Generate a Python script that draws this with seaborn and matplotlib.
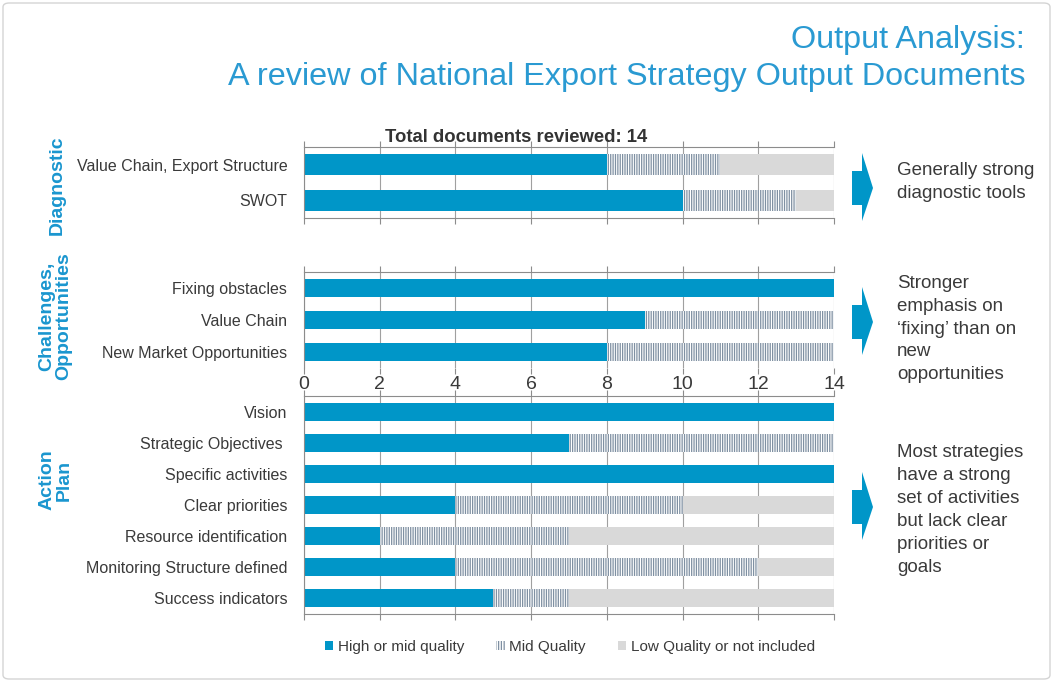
import numpy as np
import pandas as pd
import matplotlib
matplotlib.use("Agg")
import matplotlib.pyplot as plt
from matplotlib.patches import Patch, Polygon, FancyBboxPatch
from matplotlib.ticker import FixedLocator
import seaborn as sns

# ---- data -------------------------------------------------------------
diag_labels = ["Value Chain, Export Structure", "SWOT"]
diag_high = [8, 10]
diag_mid = [3, 3]
diag_low = [3, 1]

chal_labels = ["Fixing obstacles", "Value Chain", "New Market Opportunities"]
chal_high = [14, 9, 8]
chal_mid = [0, 5, 6]
chal_low = [0, 0, 0]

act_labels = ["Vision", "Strategic Objectives ", "Specific activities",
              "Clear priorities", "Resource identification",
              "Monitoring Structure defined", "Success indicators"]
act_high = [14, 7, 14, 4, 2, 4, 5]
act_mid = [0, 7, 0, 6, 5, 8, 2]
act_low = [0, 0, 0, 4, 7, 2, 7]

group_names = ["Diagnostic", "Challenges,\nOpportunities", "Action\nPlan"]
notes = ["Generally strong\ndiagnostic tools",
         "Stronger\nemphasis on\n\u2018fixing\u2019 than on\nnew\nopportunities",
         "Most strategies\nhave a strong\nset of activities\nbut lack clear\npriorities or\ngoals"]
legend_labels = ["High or mid quality", "Mid Quality", "Low Quality or not included"]
x_ticks = [0, 2, 4, 6, 8, 10, 12, 14]

# ---- style ------------------------------------------------------------
sns.set_style("white")
plt.rcParams["font.family"] = ["Liberation Sans", "DejaVu Sans"]
plt.rcParams["hatch.linewidth"] = 0.9

BLUE = "#0096c8"
TITLE_BLUE = "#2a9ad2"
HATCH = "#7f90a2"
LOW = "#d9d9d9"
TXT = "#3a3a3a"
AXC = "#8c8c8c"
HATCH_PAT = "|||||||"

W, H = 1053, 682
fig = plt.figure(figsize=(W / 100, H / 100), dpi=100)


def fx(px):
    return px / W


def fy(py):
    return 1 - py / H


def panel(top, bottom, labels, high, mid, low, show_xlabels, bottom_spine):
    ax = fig.add_axes([fx(304), fy(bottom), fx(834) - fx(304), (bottom - top) / H])
    high = np.asarray(high, float)
    mid = np.asarray(mid, float)
    low = np.asarray(low, float)
    df = pd.DataFrame({"label": labels,
                       "total": high + mid + low,
                       "upper": high + mid,
                       "high": high})
    # layered bars: full length (low quality) under mid, under high
    sns.barplot(data=df, x="total", y="label", order=labels, orient="h",
                color=LOW, saturation=1, width=0.58, linewidth=0, ax=ax)
    sns.barplot(data=df, x="upper", y="label", order=labels, orient="h",
                facecolor="white", edgecolor=HATCH, hatch=HATCH_PAT,
                width=0.58, linewidth=0, ax=ax)
    sns.barplot(data=df, x="high", y="label", order=labels, orient="h",
                color=BLUE, saturation=1, width=0.58, linewidth=0, ax=ax)
    n = len(labels)
    ax.set_xlim(0, 14)
    ax.set_ylim(n - 0.5, -0.5)
    ax.set_xlabel("")
    ax.set_ylabel("")
    ax.set_axisbelow(True)
    ax.xaxis.set_major_locator(FixedLocator(x_ticks))
    ax.grid(axis="x", color="#a0a0a0", linewidth=0.8)
    ax.grid(axis="y", visible=False)
    for s in ["top", "left"]:
        ax.spines[s].set_visible(True)
        ax.spines[s].set_color(AXC)
        ax.spines[s].set_linewidth(0.8)
    ax.spines["right"].set_visible(False)
    ax.spines["bottom"].set_visible(bottom_spine)
    ax.spines["bottom"].set_color(AXC)
    ax.spines["bottom"].set_linewidth(0.8)
    ax.tick_params(axis="x", which="major", direction="out", length=4,
                   color=AXC, width=0.8, top=True, bottom=True,
                   labelbottom=show_xlabels, labeltop=False,
                   labelsize=14, labelcolor=TXT, pad=2)
    ax.tick_params(axis="y", which="major", length=0, labelsize=11.5,
                   labelcolor=TXT, pad=12)
    ax.yaxis.set_minor_locator(FixedLocator(np.arange(-0.5, n, 1.0)))
    ax.tick_params(axis="y", which="minor", direction="out", length=4,
                   color=AXC, width=0.8)
    return ax


panel(147, 218, diag_labels, diag_high, diag_mid, diag_low, False, True)
panel(272, 368, chal_labels, chal_high, chal_mid, chal_low, True, False)
panel(396, 614, act_labels, act_high, act_mid, act_low, False, True)

# ---- titles -----------------------------------------------------------
fig.text(fx(1025), fy(40), "Output Analysis:", ha="right", va="center",
         fontsize=23.3, color=TITLE_BLUE)
fig.text(fx(1025), fy(77), "A review of National Export Strategy Output Documents",
         ha="right", va="center", fontsize=23.3, color=TITLE_BLUE)
fig.text(fx(516), fy(137), "Total documents reviewed: 14", ha="center",
         va="center", fontsize=13.3, fontweight="bold", color="#333333")

# ---- group labels on the left ----------------------------------------
for name, (cx, cy) in zip(group_names, [(57, 185), (55, 316), (56, 480)]):
    fig.text(fx(cx), fy(cy), name, rotation=90, ha="center", va="center",
             multialignment="center", fontsize=14, fontweight="bold",
             color="#1a96cf", linespacing=1.0)

# ---- arrows and notes on the right -----------------------------------
for cy in [188, 322, 507]:
    pts = [(852, cy - 17), (862, cy - 17), (862, cy - 35), (873, cy),
           (862, cy + 33), (862, cy + 17), (852, cy + 17)]
    fig.patches.append(Polygon([(fx(x), fy(y)) for x, y in pts], closed=True,
                               transform=fig.transFigure, facecolor=BLUE,
                               edgecolor="none"))

for note, cy in zip(notes, [182, 329, 510]):
    fig.text(fx(897), fy(cy), note, ha="left", va="center", fontsize=13.5,
             color=TXT, linespacing=1.46)

# ---- legend ------------------------------------------------------------
handles = [Patch(facecolor=BLUE, edgecolor="none"),
           Patch(facecolor="white", edgecolor=HATCH, hatch="||||||", linewidth=0),
           Patch(facecolor=LOW, edgecolor="none")]
fig.legend(handles, legend_labels, loc="center", bbox_to_anchor=(fx(570), fy(647)),
           ncol=3, frameon=False, fontsize=11, handlelength=0.55,
           handleheight=0.55, handletextpad=0.3, columnspacing=2.1,
           labelcolor=TXT)

# ---- outer frame -------------------------------------------------------
fig.patches.append(FancyBboxPatch((fx(3), fy(679)), fx(1047), (676) / H,
                                  boxstyle="round,pad=0,rounding_size=0.006",
                                  transform=fig.transFigure, facecolor="none",
                                  edgecolor="#d4d4d4", linewidth=1.0))

fig.savefig("out.png", dpi=100)
